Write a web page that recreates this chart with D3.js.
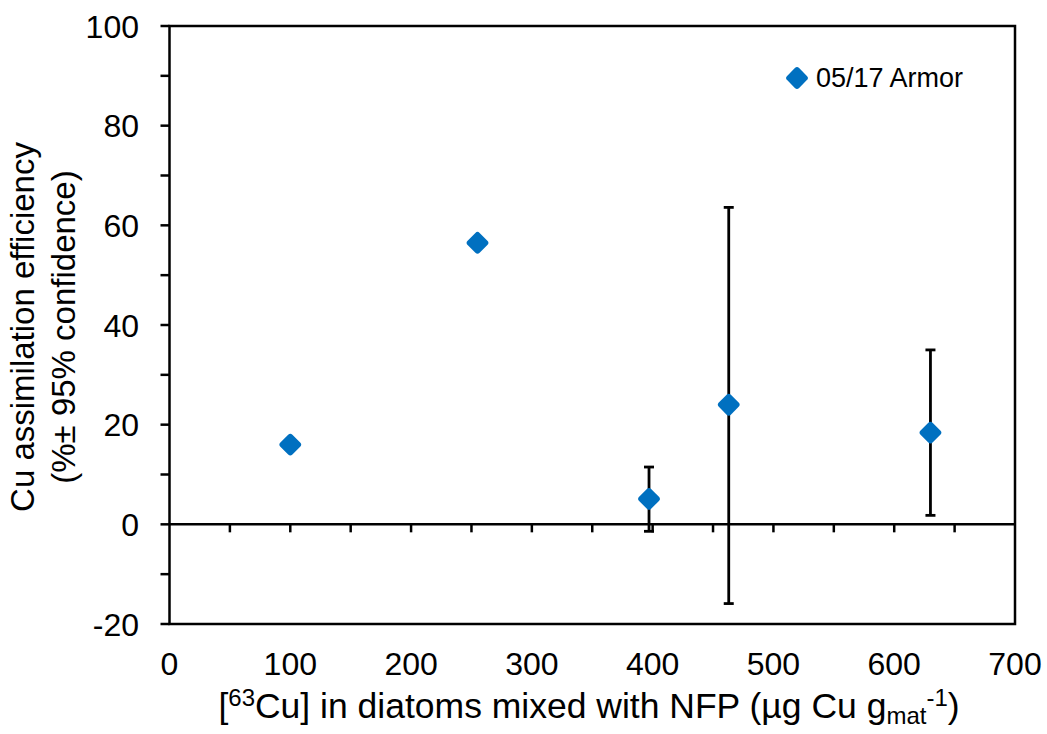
<!DOCTYPE html>
<html><head><meta charset="utf-8">
<script src="https://cdn.jsdelivr.net/npm/d3@7/dist/d3.min.js"></script>
<style>body{margin:0;background:#fff}svg{display:block}text{font-family:"Liberation Sans",Arial,sans-serif;fill:#000}</style>
</head><body><svg id="c" width="1047" height="734"></svg>
<script>
const xValues = [100, 255, 397, 463, 630];
const yValues = [16.0, 56.5, 5.1, 24.0, 18.4];
const errLow  = [null, null, -1.4, -15.9, 1.8];
const errHigh = [null, null, 11.5, 63.6, 35.0];
const xTicks = [0, 100, 200, 300, 400, 500, 600, 700];
const yTicks = [-20, 0, 20, 40, 60, 80, 100];
const seriesName = "05/17 Armor";
const color = "#0070C0";

const svg = d3.select("#c");
const L = 169.5, R = 1015, T = 26, B = 624;
const x = d3.scaleLinear().domain([0, 700]).range([L, R]);
const y = d3.scaleLinear().domain([-20, 100]).range([B, T]);

// plot box
svg.append("rect").attr("x", L).attr("y", T).attr("width", R - L).attr("height", B - T)
  .attr("fill", "none").attr("stroke", "#000").attr("stroke-width", 2.5);

// y axis ticks (outward) major + minor
const yMinor = d3.range(-20, 101, 10);
svg.append("g").selectAll("line").data(yMinor).join("line")
  .attr("x1", L - 9).attr("x2", L).attr("y1", d => y(d)).attr("y2", d => y(d))
  .attr("stroke", "#000").attr("stroke-width", 2.5);
svg.append("g").selectAll("text").data(yTicks).join("text")
  .attr("x", 139).attr("y", d => y(d)).attr("dy", "0.36em").attr("text-anchor", "end")
  .attr("font-size", 32).text(d => d);

// x axis at y=0 with downward ticks every 50
svg.append("line").attr("x1", L).attr("x2", R).attr("y1", y(0)).attr("y2", y(0))
  .attr("stroke", "#000").attr("stroke-width", 2.5);
const xMinor = d3.range(50, 700, 50);
svg.append("g").selectAll("line").data(xMinor).join("line")
  .attr("x1", d => x(d)).attr("x2", d => x(d)).attr("y1", y(0)).attr("y2", y(0) + 8)
  .attr("stroke", "#000").attr("stroke-width", 2.5);
svg.append("g").selectAll("text").data(xTicks).join("text")
  .attr("x", d => x(d)).attr("y", 675).attr("text-anchor", "middle")
  .attr("font-size", 32).text(d => d);

// error bars
const data = xValues.map((v, i) => ({x: v, y: yValues[i], lo: errLow[i], hi: errHigh[i]}));
const eb = svg.append("g").attr("stroke", "#000").attr("stroke-width", 2.8);
data.filter(d => d.lo !== null).forEach(d => {
  eb.append("line").attr("x1", x(d.x)).attr("x2", x(d.x)).attr("y1", y(d.lo)).attr("y2", y(d.hi));
  eb.append("line").attr("x1", x(d.x) - 5).attr("x2", x(d.x) + 5).attr("y1", y(d.lo)).attr("y2", y(d.lo));
  eb.append("line").attr("x1", x(d.x) - 5).attr("x2", x(d.x) + 5).attr("y1", y(d.hi)).attr("y2", y(d.hi));
});

// markers
function diamond(g, cx, cy) {
  g.append("rect").attr("x", -8.5).attr("y", -8.5).attr("width", 17).attr("height", 17)
    .attr("rx", 3).attr("fill", color)
    .attr("transform", `translate(${cx},${cy}) rotate(45)`);
}
const mg = svg.append("g");
data.forEach(d => diamond(mg, x(d.x), y(d.y)));

// legend
diamond(svg, 797, 78);
svg.append("text").attr("x", 816).attr("y", 87)
  .attr("font-size", 27).text(seriesName);

// y title
const yt = svg.append("text").attr("transform", "translate(0,327) rotate(-90)")
  .attr("text-anchor", "middle").attr("font-size", 33);
yt.append("tspan").attr("x", 0).attr("y", 34).text("Cu assimilation efficiency");
yt.append("tspan").attr("x", 0).attr("y", 75).text("(%± 95% confidence)");

// x title
const xt = svg.append("text").attr("x", 589).attr("y", 718).attr("text-anchor", "middle").attr("font-size", 35.5);
xt.append("tspan").text("[");
xt.append("tspan").attr("font-size", 24).attr("dy", -12).text("63");
xt.append("tspan").attr("dy", 12).text("Cu] in diatoms mixed with NFP (µg Cu g");
xt.append("tspan").attr("font-size", 24).attr("dy", 6).text("mat");
xt.append("tspan").attr("font-size", 24).attr("dy", -18).text("-1");
xt.append("tspan").attr("dy", 12).text(")");
</script></body></html>
